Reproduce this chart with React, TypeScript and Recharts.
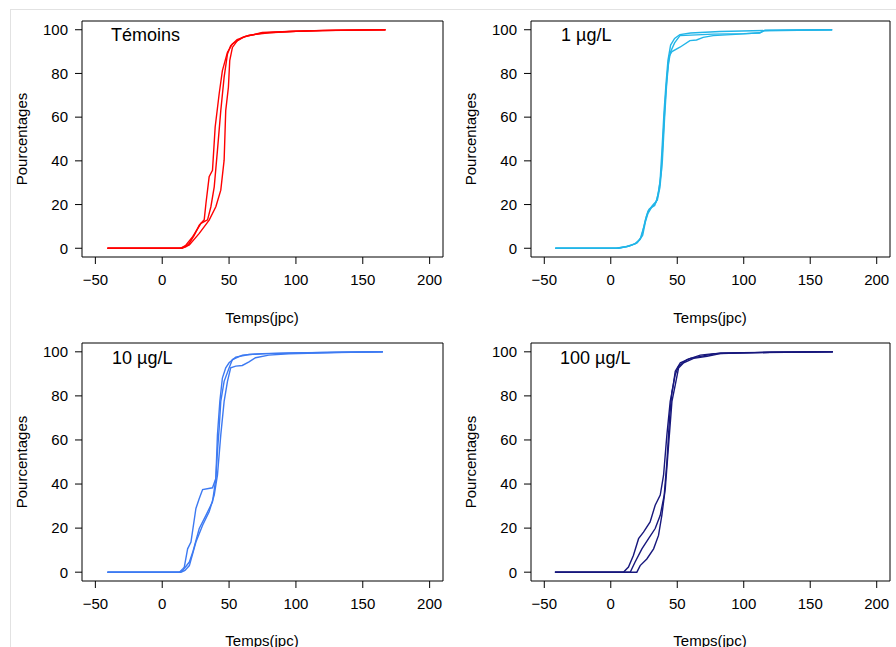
import { LineChart, Line, XAxis, YAxis, ReferenceArea } from 'recharts';

type Pt = [number, number];

const X_TICKS = [-50, 0, 50, 100, 150, 200];
const Y_TICKS = [0, 20, 40, 60, 80, 100];

// Témoins
const temoinsA: Pt[] = [[-41, 0], [13, 0], [17.8, 0.8], [20.3, 2.3], [24, 6], [27.7, 10.6], [31.4, 13], [32.7, 20.5], [35.1, 32.7], [37.6, 35.7], [39.6, 55.5], [42.6, 70.7], [45, 81.3], [48.8, 89.7], [52.5, 93.5], [60, 96.5], [74.8, 98.8], [94.6, 99.2], [119, 99.6], [167, 100]];
const temoinsB: Pt[] = [[-41, 0], [14, 0], [17.8, 1.5], [22.8, 5.3], [29, 11.4], [33.9, 13], [36.4, 19], [38.9, 28.1], [41.3, 44.8], [43.8, 63], [46.3, 78.3], [48.8, 88.9], [51.2, 92.7], [56, 95.5], [65, 97.5], [80, 98.6], [100, 99.3], [130, 99.8], [167, 100]];
const temoinsC: Pt[] = [[-41, 0], [15, 0], [20.3, 1.5], [27.7, 6.8], [35.1, 12.9], [40.1, 19], [43.8, 26.6], [46.3, 40.3], [47.5, 63], [49.5, 73.7], [50.5, 85.9], [52.5, 91.9], [56.2, 95], [62, 97], [75, 98.5], [95, 99.2], [120, 99.7], [167, 100]];

// 1 µg/L
const dose1A: Pt[] = [[-41.75, 0], [4, 0], [12, 0.8], [18, 2], [22, 4], [25, 10], [27, 15], [29, 18], [33, 19.5], [35, 23], [37, 30], [38.5, 45], [40, 62], [41.5, 75], [43, 86], [45, 93], [48, 96], [52, 97.8], [60, 98.5], [82, 99.2], [120, 99.7], [166.5, 100]];
const dose1B: Pt[] = [[-41.75, 0], [6, 0], [14, 1], [20, 2.5], [24, 6], [26, 12], [28, 16], [31, 19], [34, 21], [36, 26], [38, 35], [39.5, 52], [41, 68], [42.5, 80], [44, 88], [46, 90], [52, 92], [59.5, 95], [64.5, 95.3], [69.5, 96.5], [77, 97.3], [97, 98], [112, 98.6], [116, 99.8], [166.5, 100]];
const dose1C: Pt[] = [[-41.75, 0], [5, 0], [13, 0.9], [19, 2.2], [23, 5], [26, 13], [28, 17], [32, 20], [35, 22], [37, 28], [38.8, 40], [40.5, 60], [42, 75], [43.5, 85], [45, 90], [48, 94], [52, 97.3], [77, 98], [100, 98.2], [112, 98.5], [115, 99.5], [166.5, 100]];

// 10 µg/L
const dose10A: Pt[] = [[-41, 0], [12.9, 0], [15.3, 1.5], [16.5, 2.3], [19, 10.6], [21.5, 13.7], [25.2, 28.9], [27.7, 33.4], [30.2, 37.5], [37.6, 38.3], [40.1, 42.5], [41.3, 54.7], [42.6, 65.3], [43.8, 77.5], [46.3, 86.6], [50, 92.7], [52.5, 96.5], [60, 98.5], [74.8, 99.2], [94.6, 99.5], [165, 100]];
const dose10B: Pt[] = [[-41, 0], [13, 0], [15.3, 0.8], [20.3, 4.6], [22.8, 9], [27.7, 19.8], [32.7, 25.8], [37.6, 31.9], [40.1, 42.5], [41.3, 62.3], [43.1, 77.5], [45, 88.1], [47.5, 92.7], [50, 95], [55, 97.6], [64.9, 98.8], [79.7, 99.2], [120, 99.7], [165, 100]];
const dose10C: Pt[] = [[-41, 0], [14, 0], [17, 0.8], [20.3, 3], [25.2, 13.7], [30.2, 21.3], [35.1, 27.4], [38.9, 35], [41.3, 44], [43.8, 62.3], [46.3, 77.5], [48.8, 86.6], [51.2, 92.7], [55, 93.5], [59.9, 93.8], [64.9, 95.4], [69.8, 97.3], [79.7, 98.5], [94.6, 99.1], [130, 99.7], [165, 100]];

// 100 µg/L
const dose100A: Pt[] = [[-42, 0], [9.5, 0], [13.3, 2.3], [17, 7.6], [20.9, 15.2], [24.6, 18.2], [29.6, 22.8], [33.4, 30.4], [37.2, 35], [39.7, 44], [42.2, 62.3], [44.7, 77.5], [46.7, 83.6], [48.5, 91.2], [52.3, 95], [59.8, 97], [72.4, 98.5], [82.4, 99.5], [167, 100]];
const dose100B: Pt[] = [[-42, 0], [14.6, 0], [18.3, 4.6], [23.4, 10.6], [28.4, 15.2], [33.4, 19.8], [37.2, 25.8], [40.2, 35], [42.2, 50], [44.2, 69.9], [46, 82], [48.5, 89.7], [51, 93.5], [57.3, 96.5], [67.3, 98.5], [77.4, 99.2], [120, 99.8], [167, 100]];
const dose100C: Pt[] = [[-42, 0], [19.6, 0], [22.1, 3], [27.1, 6], [32.2, 10.6], [35.9, 16.7], [38.4, 25.8], [41, 38], [43.5, 57.8], [46, 77.5], [48.5, 85], [51, 92.7], [54.8, 95], [62.3, 97], [72.4, 98], [82.4, 99.2], [120, 99.8], [167, 100]];

const FONT = '"Liberation Sans", Arial, Helvetica, sans-serif';

const fmt = (v: number) => (v < 0 ? `\u2212${Math.abs(v)}` : `${v}`);
const toRows = (pts: Pt[]) => pts.map(([x, y]) => ({ x, y }));

interface PanelProps {
  left: number; // plot box left
  top: number; // plot box top
  width: number;
  height: number;
  color: string;
  curves: Pt[][];
}

function Panel({ left, top, width, height, color, curves }: PanelProps) {
  return (
    <div style={{ position: 'absolute', left: left - 82, top: top - 21 }}>
      <LineChart
        width={width + 88}
        height={height + 81}
        margin={{ top: 21, right: 6, bottom: 30, left: 22 }}
      >
        <XAxis
          type="number"
          dataKey="x"
          domain={[-60, 210]}
          ticks={X_TICKS}
          allowDataOverflow
          axisLine={false}
          tickLine={{ stroke: '#000' }}
          tickSize={7}
          tickMargin={10}
          tick={{ fontSize: 15, fill: '#000' }}
          tickFormatter={fmt}
          height={30}
        />
        <YAxis
          type="number"
          domain={[-4, 104]}
          ticks={Y_TICKS}
          allowDataOverflow
          axisLine={false}
          tickLine={{ stroke: '#000' }}
          tickSize={7}
          tickMargin={7}
          tick={{ fontSize: 15, fill: '#000' }}
          width={60}
        />
        <ReferenceArea x1={-60} x2={210} y1={-4} y2={104} fill="none" stroke="#000" strokeWidth={1} />
        {curves.map((c, i) => (
          <Line
            key={i}
            data={toRows(c)}
            dataKey="y"
            type="linear"
            stroke={color}
            strokeWidth={1.4}
            dot={false}
            activeDot={false}
            isAnimationActive={false}
          />
        ))}
      </LineChart>
    </div>
  );
}

export default function App() {
  const titles = [
    { t: 'Témoins', x: 111, y: 41 },
    { t: '1 µg/L', x: 561, y: 41 },
    { t: '10 µg/L', x: 112, y: 364 },
    { t: '100 µg/L', x: 560, y: 364 },
  ];
  return (
    <div style={{ position: 'absolute', left: 0, top: 0, width: 896, height: 647, overflow: 'hidden', background: '#fff', fontFamily: FONT }}>
      <div style={{ position: 'absolute', left: 10, top: 9, width: 900, height: 700, borderTop: '1px solid #e2e2e2', borderLeft: '1px solid #e2e2e2' }} />
      <Panel left={82} top={21} width={361} height={236} color="#ff0000" curves={[temoinsA, temoinsB, temoinsC]} />
      <Panel left={531} top={21} width={359} height={236} color="#22b5e8" curves={[dose1A, dose1B, dose1C]} />
      <Panel left={82} top={343} width={361} height={238} color="#3d7af2" curves={[dose10A, dose10B, dose10C]} />
      <Panel left={531} top={343} width={359} height={238} color="#17177c" curves={[dose100A, dose100B, dose100C]} />
      <svg width={896} height={647} style={{ position: 'absolute', left: 0, top: 0, pointerEvents: 'none' }} fontFamily={FONT}>
        {titles.map((d) => (
          <text key={d.t} x={d.x} y={d.y} fontSize={18} fill="#000">{d.t}</text>
        ))}
        {[139, 462].map((cy) =>
          [26.5, 475.5].map((cx) => (
            <text key={`${cx}-${cy}`} x={cx} y={cy} fontSize={15} fill="#000" textAnchor="middle" transform={`rotate(-90 ${cx} ${cy})`}>
              Pourcentages
            </text>
          ))
        )}
        {[323, 646].map((by) =>
          [262, 710].map((cx) => (
            <text key={`t-${cx}-${by}`} x={cx} y={by} fontSize={15} fill="#000" textAnchor="middle">
              Temps(jpc)
            </text>
          ))
        )}
      </svg>
    </div>
  );
}
